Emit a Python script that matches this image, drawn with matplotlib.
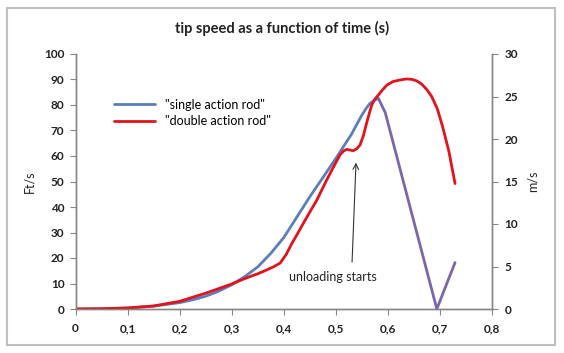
import matplotlib.pyplot as plt
from matplotlib.patches import Rectangle

plt.rcParams['font.family'] = ['Lato', 'DejaVu Sans']

# time (s) and tip speed (Ft/s)
t_single = [0, 0.05, 0.1, 0.15, 0.2, 0.225, 0.25, 0.275, 0.3, 0.325, 0.35,
            0.375, 0.4, 0.425, 0.45, 0.475, 0.5, 0.515, 0.53, 0.54, 0.55,
            0.558, 0.565, 0.575, 0.582]
v_single = [0, 0.1, 0.4, 1.1, 2.5, 3.6, 5.0, 7.0, 9.5, 12.7, 16.5,
            21.8, 28, 36, 44, 51.5, 59, 63.8, 68.5, 72.3, 76,
            78.6, 80.5, 82, 82.5]

# falling part of the single action curve (drawn in purple in the original)
t_fall = [0.582, 0.595, 0.694, 0.729]
v_fall = [82.5, 77, 0, 18.2]

t_double = [0, 0.05, 0.1, 0.15, 0.2, 0.25, 0.275, 0.3, 0.32, 0.335, 0.35,
            0.367, 0.38, 0.393, 0.405, 0.415, 0.425, 0.4376, 0.45, 0.463,
            0.4825, 0.495, 0.508, 0.515, 0.521, 0.528, 0.5336, 0.54, 0.5465,
            0.553, 0.559, 0.564, 0.569, 0.575, 0.5817, 0.59, 0.598, 0.61,
            0.623, 0.635, 0.645, 0.655, 0.665, 0.675, 0.684, 0.695, 0.705,
            0.717, 0.729]
v_double = [0, 0.1, 0.4, 1.2, 3.0, 6.2, 8.0, 9.8, 11.5, 12.7, 13.8,
            15.3, 16.5, 18.0, 21.5, 25.5, 29, 33.6, 38, 42.5,
            50.6, 55.5, 60.4, 62.0, 62.6, 62.3, 62.1, 62.8, 64.3,
            68, 72.8, 76.5, 80, 82.3, 83.9, 86, 87.8, 89.2,
            89.8, 90.2, 90.1, 89.5, 88.2, 86, 83.4, 78.5, 71.6,
            62, 49.2]

x_ticks = [0, 0.1, 0.2, 0.3, 0.4, 0.5, 0.6, 0.7, 0.8]
x_labels = ["0", "0,1", "0,2", "0,3", "0,4", "0,5", "0,6", "0,7", "0,8"]
y_ticks = [0, 10, 20, 30, 40, 50, 60, 70, 80, 90, 100]
y2_ticks = [0, 5, 10, 15, 20, 25, 30]

W, H = 564, 353
fig = plt.figure(figsize=(W / 100, H / 100), dpi=100)
ax = fig.add_axes([75.5 / W, (H - 309) / H, 416.5 / W, 255 / H])
ax2 = ax.twinx()

grey = '#868686'
blue = '#5B7DBA'
red = '#E3121B'
purple = '#7B66AC'

ax.plot(t_single, v_single, color=blue, lw=2.0, label='"single action rod"',
        solid_capstyle='round', solid_joinstyle='round', zorder=3)
ax.plot(t_fall, v_fall, color=purple, lw=2.0, solid_capstyle='round',
        solid_joinstyle='round', zorder=3)
ax.plot(t_double, v_double, color=red, lw=2.0, label='"double action rod"',
        solid_capstyle='round', solid_joinstyle='round', zorder=4)

ax.set_xlim(0, 0.8)
ax.set_ylim(0, 100)
ax2.set_ylim(0, 30)

ax.set_xticks(x_ticks)
ax.set_xticklabels(x_labels)
ax.set_yticks(y_ticks)
ax2.set_yticks(y2_ticks)

for a in (ax, ax2):
    a.spines['top'].set_visible(False)
    for s in ('left', 'bottom', 'right'):
        a.spines[s].set_color(grey)
        a.spines[s].set_linewidth(1.0)
ax.tick_params(axis='x', direction='out', length=4, color=grey, pad=6)
ax.tick_params(axis='y', direction='out', length=4, color=grey, pad=4)
ax2.tick_params(axis='y', direction='out', length=4, color=grey, pad=5)
for lab in ax.get_xticklabels() + ax.get_yticklabels() + ax2.get_yticklabels():
    lab.set_fontweight('bold')
    lab.set_fontsize(8.5)
    lab.set_color('#222222')

ax.set_ylabel('Ft/s', fontsize=9, labelpad=6, color='#222222')
ax2.set_ylabel('m/s', fontsize=9, labelpad=6, color='#222222')

fig.text(0.5, 1 - 28 / H, 'tip speed as a function of time (s)', ha='center',
         va='center', fontsize=10.5, fontweight='bold', color='#222222')

ax.legend(loc='upper left', bbox_to_anchor=(0.0917, 0.825), frameon=False,
          fontsize=9, handlelength=3.3, handletextpad=0.8, labelspacing=0.35,
          borderpad=0, borderaxespad=0)

ax.annotate('', xy=(0.539, 58.5), xytext=(0.531, 17.3),
            arrowprops=dict(arrowstyle='->', color='#333333', lw=0.8))
ax.text(0.495, 12.4, 'unloading starts', fontsize=9, ha='center', va='center',
        color='#222222')

fig.patches.append(Rectangle((7 / W, (H - 345) / H), 548 / W, 337 / H,
                             transform=fig.transFigure, fill=False,
                             edgecolor='#BFBFBF', lw=1.5))

fig.savefig('out.png', dpi=100)
